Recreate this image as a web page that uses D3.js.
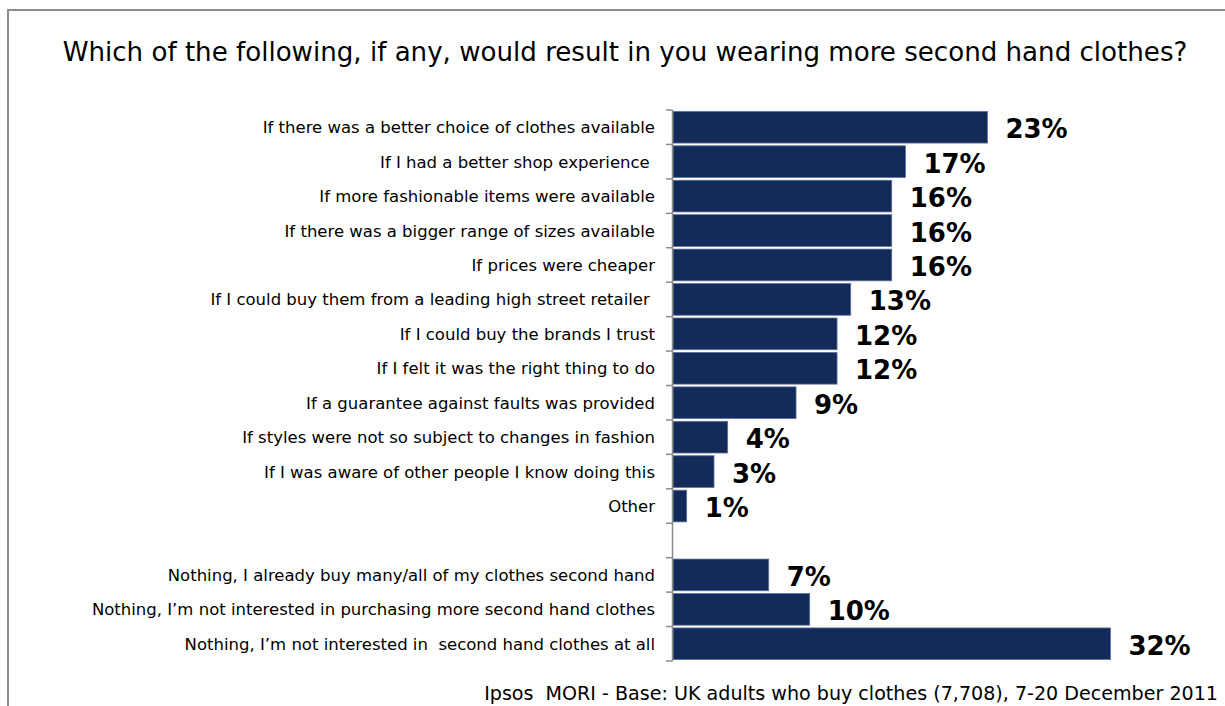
<!DOCTYPE html>
<html>
<head>
<meta charset="utf-8">
<script src="https://cdnjs.cloudflare.com/ajax/libs/d3/7.8.5/d3.min.js"></script>
<style>
  html, body { margin: 0; padding: 0; background: #fff; }
  svg { display: block; }
</style>
</head>
<body>
<svg id="chart" width="1225" height="706"></svg>
<script>
// Survey answers (top group), then a blank spacer row, then the "Nothing" answers
const categories = [
  "If there was a better choice of clothes available",
  "If I had a better shop experience ",
  "If more fashionable items were available",
  "If there was a bigger range of sizes available",
  "If prices were cheaper",
  "If I could buy them from a leading high street retailer ",
  "If I could buy the brands I trust",
  "If I felt it was the right thing to do",
  "If a guarantee against faults was provided",
  "If styles were not so subject to changes in fashion",
  "If I was aware of other people I know doing this",
  "Other",
  "",
  "Nothing, I already buy many/all of my clothes second hand",
  "Nothing, I\u2019m not interested in purchasing more second hand clothes",
  "Nothing, I\u2019m not interested in  second hand clothes at all"
];
const values = [23, 17, 16, 16, 16, 13, 12, 12, 9, 4, 3, 1, null, 7, 10, 32];
const valueLabels = ["23%", "17%", "16%", "16%", "16%", "13%", "12%", "12%", "9%", "4%", "3%", "1%", "", "7%", "10%", "32%"];

const title = "Which of the following, if any, would result in you wearing more second hand clothes?";
const footnote = "Ipsos  MORI - Base: UK adults who buy clothes (7,708), 7-20 December 2011";

const FONT = "Tahoma, 'DejaVu Sans', Verdana, sans-serif";

const rows = categories.map((c, i) => ({ key: "r" + i, label: c, value: values[i], text: valueLabels[i] }));

const svg = d3.select("#chart");

// Frame lines along the top and left edges
svg.append("line").attr("x1", 8).attr("y1", 10).attr("x2", 1225).attr("y2", 10)
  .attr("stroke", "#8c8c8c").attr("stroke-width", 2);
svg.append("line").attr("x1", 8).attr("y1", 9).attr("x2", 8).attr("y2", 706)
  .attr("stroke", "#8c8c8c").attr("stroke-width", 2);

function addText(parent, x, y, txt, opts) {
  return parent.append("text")
    .attr("x", x).attr("y", y)
    .attr("text-anchor", opts.anchor || "start")
    .attr("font-family", FONT)
    .attr("font-size", opts.size)
    .attr("font-weight", opts.weight || "normal")
    .attr("fill", opts.fill || "#000")
    .style("white-space", "pre")
    .text(txt);
}

// Title
addText(svg, 625, 61, title, { size: 26.1, anchor: "middle" });

// Scales
const y = d3.scaleBand()
  .domain(rows.map(d => d.key))
  .range([110, 661])
  .paddingInner(0.08)
  .paddingOuter(0.04);

const x = d3.scaleLinear().domain([0, 35]).range([673, 673 + 35 * 13.67]);

// Bars
svg.append("g").selectAll("rect")
  .data(rows.filter(d => d.value != null))
  .join("rect")
  .attr("x", x(0))
  .attr("y", d => y(d.key))
  .attr("width", d => x(d.value) - x(0))
  .attr("height", y.bandwidth())
  .attr("fill", "#132a5a")
  .attr("stroke", "#5d7197")
  .attr("stroke-width", 0.8);

// Category axis: line plus ticks at band boundaries
const axisG = svg.append("g");
axisG.append("line")
  .attr("x1", 672.5).attr("x2", 672.5)
  .attr("y1", y.range()[0]).attr("y2", y.range()[1])
  .attr("stroke", "#8a8a8a").attr("stroke-width", 1.5);
const boundaries = rows.map(d => y(d.key) - y.step() * y.paddingInner() / 2);
boundaries.push(y.range()[1]);
boundaries[0] = y.range()[0];
axisG.selectAll("line.tick")
  .data(boundaries)
  .join("line")
  .attr("class", "tick")
  .attr("x1", 666).attr("x2", 672.5)
  .attr("y1", d => d).attr("y2", d => d)
  .attr("stroke", "#8a8a8a").attr("stroke-width", 1.5);

// Category labels
rows.forEach(d => {
  if (!d.label) return;
  addText(svg, 655, y(d.key) + y.bandwidth() / 2 + 6, d.label, { size: 16.5, anchor: "end" });
});

// Value labels
rows.forEach(d => {
  if (d.value == null) return;
  addText(svg, x(d.value) + 18, y(d.key) + y.bandwidth() / 2 + 11, d.text, { size: 26, weight: "bold" });
});

// Footnote
addText(svg, 1218, 700, footnote, { size: 19.1, anchor: "end" });
</script>
</body>
</html>
